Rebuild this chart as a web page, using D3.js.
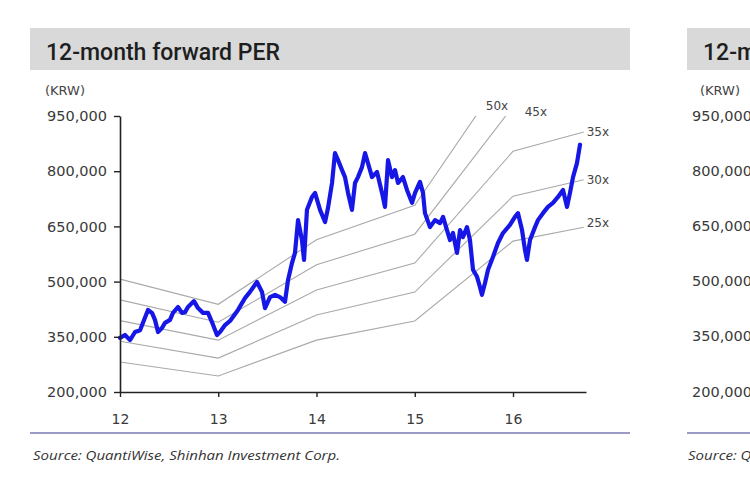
<!DOCTYPE html>
<html>
<head>
<meta charset="utf-8">
<script src="https://cdn.jsdelivr.net/npm/d3@7"></script>
<style>
  html, body { margin: 0; padding: 0; background: #fff; }
  svg { display: block; }
</style>
</head>
<body>
<svg id="chart" width="750" height="495"></svg>
<script>
// ---------------- DATA ----------------
const titleText = "12-month forward PER";
const unitText = "(KRW)";
const sourceText = "Source: QuantiWise, Shinhan Investment Corp.";

const yTicks = [200000, 350000, 500000, 650000, 800000, 950000];
const xTicks = [2012, 2013, 2014, 2015, 2016];
const xTickLabels = ["12", "13", "14", "15", "16"];

// share price (KRW), time as decimal year
const priceYears = [
  2012.000, 2012.051, 2012.102, 2012.153, 2012.204, 2012.234, 2012.285, 2012.326, 2012.356, 2012.387,
  2012.427, 2012.458, 2012.509, 2012.539, 2012.590, 2012.631, 2012.662, 2012.692, 2012.753, 2012.794,
  2012.845, 2012.896, 2012.936, 2012.987, 2013.018, 2013.069, 2013.120, 2013.201, 2013.272, 2013.323,
  2013.394, 2013.445, 2013.476, 2013.527, 2013.578, 2013.628, 2013.679, 2013.710, 2013.751, 2013.781,
  2013.812, 2013.852, 2013.873, 2013.903, 2013.954, 2013.985, 2014.036, 2014.087, 2014.117, 2014.158,
  2014.188, 2014.219, 2014.260, 2014.290, 2014.321, 2014.361, 2014.392, 2014.422, 2014.463, 2014.494,
  2014.524, 2014.565, 2014.616, 2014.667, 2014.697, 2014.728, 2014.768, 2014.799, 2014.830, 2014.880,
  2014.921, 2014.972, 2015.003, 2015.053, 2015.084, 2015.104, 2015.155, 2015.206, 2015.257, 2015.288,
  2015.328, 2015.359, 2015.389, 2015.430, 2015.461, 2015.491, 2015.532, 2015.562, 2015.593, 2015.634,
  2015.664, 2015.684, 2015.715, 2015.746, 2015.796, 2015.847, 2015.898, 2015.969, 2016.020, 2016.051,
  2016.092, 2016.122, 2016.142, 2016.173, 2016.224, 2016.254, 2016.305, 2016.356, 2016.407, 2016.458,
  2016.509, 2016.550, 2016.580, 2016.611, 2016.651, 2016.682
];
const priceValues = [
  347000, 355000, 341000, 363000, 368000, 388000, 423000, 415000, 396000, 363000,
  374000, 388000, 396000, 415000, 431000, 415000, 417000, 431000, 447000, 428000,
  415000, 415000, 390000, 355000, 363000, 382000, 393000, 423000, 455000, 472000,
  499000, 472000, 428000, 458000, 464000, 458000, 445000, 504000, 551000, 578000,
  667000, 613000, 559000, 695000, 730000, 741000, 695000, 662000, 700000, 768000,
  849000, 830000, 803000, 784000, 741000, 695000, 768000, 784000, 811000, 849000,
  822000, 784000, 798000, 741000, 703000, 830000, 784000, 803000, 768000, 784000,
  749000, 714000, 741000, 771000, 741000, 686000, 648000, 667000, 659000, 676000,
  640000, 613000, 632000, 578000, 640000, 621000, 648000, 613000, 532000, 513000,
  485000, 464000, 496000, 532000, 567000, 605000, 632000, 654000, 676000, 686000,
  640000, 586000, 559000, 613000, 648000, 667000, 686000, 703000, 714000, 730000,
  749000, 703000, 741000, 784000, 822000, 872000
];

// PER band nodes: forward EPS (KRW) at each node
const bandYears = [2012.0, 2013.0, 2014.0, 2015.0, 2016.0, 2016.72];
const bandEps = [11260, 9740, 13640, 15720, 24400, 25900];
const bandMultiples = [25, 30, 35, 40, 45];
const bandLabels = ["25x", "30x", "35x", "45x", "50x"];

// ---------------- CHART ----------------
const svg = d3.select("#chart");
const W = 750, H = 495;
svg.append("rect").attr("width", W).attr("height", H).attr("fill", "#fff");

const plot = { left: 120, right: 586, top: 116, bottom: 392 };
const x = d3.scaleLinear().domain([2012, 2016.743]).range([plot.left, plot.right]);
const y = d3.scaleLinear().domain([200000, 950000]).range([plot.bottom, plot.top]);

const FONT = "'DejaVu Sans', Verdana, sans-serif";
const textCol = "#3a3a3a";

// Title bars
svg.append("rect").attr("x", 30).attr("y", 28).attr("width", 600).attr("height", 42).attr("fill", "#d9d9d9");
svg.append("text").attr("x", 46).attr("y", 60)
  .attr("font-family", "Roboto, 'Open Sans', sans-serif").attr("font-size", 24).attr("font-weight", 500)
  .attr("fill", "#1e1e1e").attr("textLength", 234).attr("lengthAdjust", "spacingAndGlyphs")
  .text(titleText);

svg.append("text").attr("x", 45).attr("y", 95)
  .attr("font-family", FONT).attr("font-size", 13).attr("fill", "#444").text(unitText);

// Clip for bands
svg.append("clipPath").attr("id", "plotclip").append("rect")
  .attr("x", plot.left).attr("y", plot.top).attr("width", plot.right - plot.left + 10).attr("height", plot.bottom - plot.top);

// PER bands
const bandG = svg.append("g").attr("clip-path", "url(#plotclip)");
const bandLine = d3.line().x(d => x(d[0])).y(d => y(d[1]));
bandMultiples.forEach((m, i) => {
  const pts = bandYears.map((yr, j) => [yr, bandEps[j] * m]);
  bandG.append("path").attr("d", bandLine(pts)).attr("fill", "none")
    .attr("stroke", "#a9a9a9").attr("stroke-width", 1.1);
});

// Band labels
const lblG = svg.append("g").attr("font-family", FONT).attr("font-size", 12).attr("fill", "#444");
bandMultiples.forEach((m, i) => {
  const endVal = bandEps[bandEps.length - 1] * m;
  if (endVal <= 950000) {
    lblG.append("text").attr("x", x(bandYears[bandYears.length - 1]) + 3)
      .attr("y", y(endVal) + 4 - (i === 0 ? 4 : 0)).text(bandLabels[i]);
  } else {
    // find where the band exits the top of the plot (between 2015 and 2016 nodes)
    let ex = null;
    for (let j = 0; j < bandYears.length - 1; j++) {
      const v0 = bandEps[j] * m, v1 = bandEps[j + 1] * m;
      if (v0 <= 950000 && v1 > 950000) {
        const t = (950000 - v0) / (v1 - v0);
        ex = bandYears[j] + t * (bandYears[j + 1] - bandYears[j]);
        break;
      }
    }
    const off = i === bandMultiples.length - 1 ? [10, -6] : [19, 0];
    lblG.append("text").attr("x", x(ex) + off[0]).attr("y", y(950000) + off[1]).text(bandLabels[i]);
  }
});

// Price line
const priceLine = d3.line().x((d, i) => x(priceYears[i])).y(d => y(d));
svg.append("path").attr("d", priceLine(priceValues)).attr("fill", "none")
  .attr("stroke", "#1616e6").attr("stroke-width", 4.2)
  .attr("stroke-linejoin", "round").attr("stroke-linecap", "round");

// Axes
const yAxis = svg.append("g").attr("transform", `translate(${plot.left},0)`)
  .call(d3.axisLeft(y).tickValues(yTicks).tickFormat(d3.format(",")).tickSize(6).tickSizeOuter(0).tickPadding(7));
const xAxis = svg.append("g").attr("transform", `translate(0,${plot.bottom})`)
  .call(d3.axisBottom(x).tickValues(xTicks).tickFormat((d, i) => xTickLabels[i]).tickSize(5).tickSizeOuter(0).tickPadding(17));
[yAxis, xAxis].forEach(a => {
  a.select(".domain").attr("stroke", "#222").attr("stroke-width", 1.6);
  a.selectAll(".tick line").attr("stroke", "#222").attr("stroke-width", 1.4);
  a.selectAll(".tick text").attr("font-family", FONT).attr("font-size", 14.5).attr("fill", textCol);
});
xAxis.selectAll(".tick text").attr("font-size", 14);

// Bottom rule and source
svg.append("line").attr("x1", 30).attr("x2", 630).attr("y1", 433).attr("y2", 433)
  .attr("stroke", "#9a9ac4").attr("stroke-width", 2);
svg.append("text").attr("x", 33).attr("y", 460)
  .attr("font-family", "'Open Sans', sans-serif").attr("font-style", "italic").attr("font-size", 13)
  .attr("fill", "#333").attr("textLength", 307).attr("lengthAdjust", "spacingAndGlyphs").text(sourceText);

// ---- second (clipped) panel at right edge ----
const rp = svg.append("g");
rp.append("rect").attr("x", 687).attr("y", 28).attr("width", 80).attr("height", 42).attr("fill", "#d9d9d9");
rp.append("text").attr("x", 703).attr("y", 60)
  .attr("font-family", "Roboto, 'Open Sans', sans-serif").attr("font-size", 24).attr("font-weight", 500)
  .attr("fill", "#1e1e1e").attr("textLength", 234).attr("lengthAdjust", "spacingAndGlyphs").text(titleText);
rp.append("text").attr("x", 700).attr("y", 95)
  .attr("font-family", FONT).attr("font-size", 13).attr("fill", "#444").text(unitText);
yTicks.forEach(v => {
  rp.append("text").attr("x", 692).attr("y", y(v)).attr("dy", "0.32em")
    .attr("font-family", FONT).attr("font-size", 14.5).attr("fill", textCol).text(d3.format(",")(v));
});
rp.append("line").attr("x1", 687).attr("x2", 760).attr("y1", 433).attr("y2", 433)
  .attr("stroke", "#9a9ac4").attr("stroke-width", 2);
rp.append("text").attr("x", 688).attr("y", 460)
  .attr("font-family", "'Open Sans', sans-serif").attr("font-style", "italic").attr("font-size", 13)
  .attr("fill", "#333").attr("textLength", 307).attr("lengthAdjust", "spacingAndGlyphs").text(sourceText);
</script>
</body>
</html>
